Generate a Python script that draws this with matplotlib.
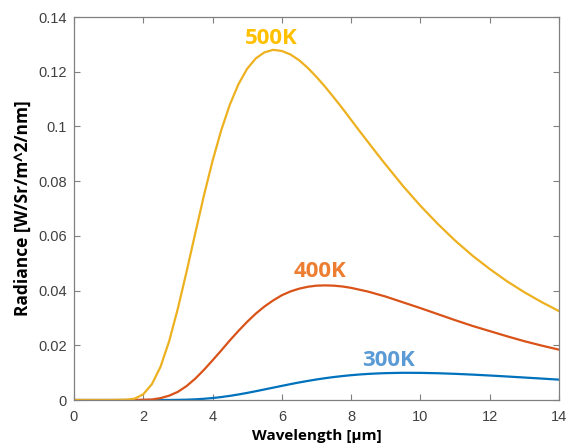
import matplotlib
matplotlib.use("Agg")
import matplotlib.pyplot as plt

# Wavelength grid [µm]
wavelength = [0.0, 0.5, 1.0,
              1.5, 1.75, 2.0, 2.25, 2.5, 2.75, 3.0, 3.25, 3.5, 3.75, 4.0, 4.25,
              4.5, 4.75, 5.0, 5.25, 5.5, 5.75, 6.0, 6.25, 6.5, 6.75, 7.0, 7.25,
              7.5, 7.75, 8.0, 8.25, 8.5, 8.75, 9.0,
              9.5, 10.0, 10.5, 11.0, 11.5, 12.0, 12.5, 13.0, 13.5, 14.0]

# Spectral radiance [W/sr/m^2/nm]
radiance_300k = [0.0, 0.0, 0.0,
                 0.0, 0.0, 0.0, 0.0, 0.00001, 0.00002, 0.00006, 0.00013, 0.00025,
                 0.00045, 0.00072, 0.00108, 0.00152, 0.00203, 0.00260, 0.00322,
                 0.00387, 0.00452, 0.00517, 0.00581, 0.00642, 0.00698, 0.00751,
                 0.00798, 0.00840, 0.00876, 0.00908, 0.00934, 0.00955, 0.00971,
                 0.00983,
                 0.00995, 0.00992, 0.00979, 0.00957, 0.00929, 0.00896, 0.00860,
                 0.00822, 0.00784, 0.00745]

radiance_400k = [0.0, 0.0, 0.0,
                 0.0, 0.0, 0.0001, 0.0002, 0.0007, 0.0016, 0.0030, 0.0051, 0.0078,
                 0.0110, 0.0145, 0.0181, 0.0218, 0.0253, 0.0286, 0.0316, 0.0342,
                 0.0364, 0.0383, 0.0397, 0.0407, 0.0414, 0.0418, 0.0419, 0.0418,
                 0.0415, 0.0410, 0.0403, 0.0396, 0.0387, 0.0378,
                 0.0357, 0.0336, 0.0314, 0.0292, 0.0271, 0.0252, 0.0233, 0.0215,
                 0.0199, 0.0184]

radiance_500k = [0.0, 0.0, 0.0,
                 0.0001, 0.0005, 0.0021, 0.0058, 0.0122, 0.0216, 0.0335, 0.0469,
                 0.0609, 0.0747, 0.0874, 0.0986, 0.1080, 0.1155, 0.1211, 0.1249,
                 0.1271, 0.1280, 0.1276, 0.1263, 0.1242, 0.1214, 0.1181, 0.1145,
                 0.1106, 0.1066, 0.1024, 0.0982, 0.0941, 0.0900, 0.0860,
                 0.0782, 0.0710, 0.0644, 0.0583, 0.0528, 0.0479, 0.0434, 0.0394,
                 0.0358, 0.0325]

series_labels = ["300K", "400K", "500K"]
x_ticks = [0, 2, 4, 6, 8, 10, 12, 14]
y_ticks = [0, 0.02, 0.04, 0.06, 0.08, 0.1, 0.12, 0.14]
y_tick_labels = ["0", "0.02", "0.04", "0.06", "0.08", "0.1", "0.12", "0.14"]

line_colors = ["#0072BD", "#D95319", "#EDB120"]
text_colors = ["#5B9BD5", "#ED7D31", "#FFC000"]
label_pos = [(9.09, 0.0146), (7.10, 0.0468), (5.70, 0.1321)]

fig = plt.figure(figsize=(5.69, 4.48), dpi=100)
ax = fig.add_axes([0.130, 0.1071, 0.8524, 0.8549])

for ys, c in zip([radiance_300k, radiance_400k, radiance_500k], line_colors):
    ax.plot(wavelength, ys, color=c, lw=1.6)

for lab, (lx, ly), tc in zip(series_labels, label_pos, text_colors):
    ax.text(lx, ly, lab, color=tc, fontsize=16, fontweight="bold",
            family="Open Sans", ha="center", va="center")

ax.set_xlim(0, 14)
ax.set_ylim(0, 0.14)
ax.set_xticks(x_ticks)
ax.set_yticks(y_ticks)
ax.set_yticklabels(y_tick_labels)
ax.tick_params(direction="in", length=4, width=0.8, color="#808080",
               labelcolor="#404040", labelsize=10.5, top=True, right=True)
ax.tick_params(axis="x", pad=7)
ax.tick_params(axis="y", pad=5)
for lab in ax.get_xticklabels() + ax.get_yticklabels():
    lab.set_family("Liberation Sans")
for sp in ax.spines.values():
    sp.set_color("#808080")
    sp.set_linewidth(0.9)

ax.set_xlabel("Wavelength [µm]", fontsize=11, fontweight="bold",
              family="Open Sans", labelpad=4)
ax.set_ylabel("Radiance [W/Sr/m^2/nm]", fontsize=12.5, fontweight="bold",
              family="Open Sans", labelpad=5)

fig.savefig("out.png", dpi=100)
